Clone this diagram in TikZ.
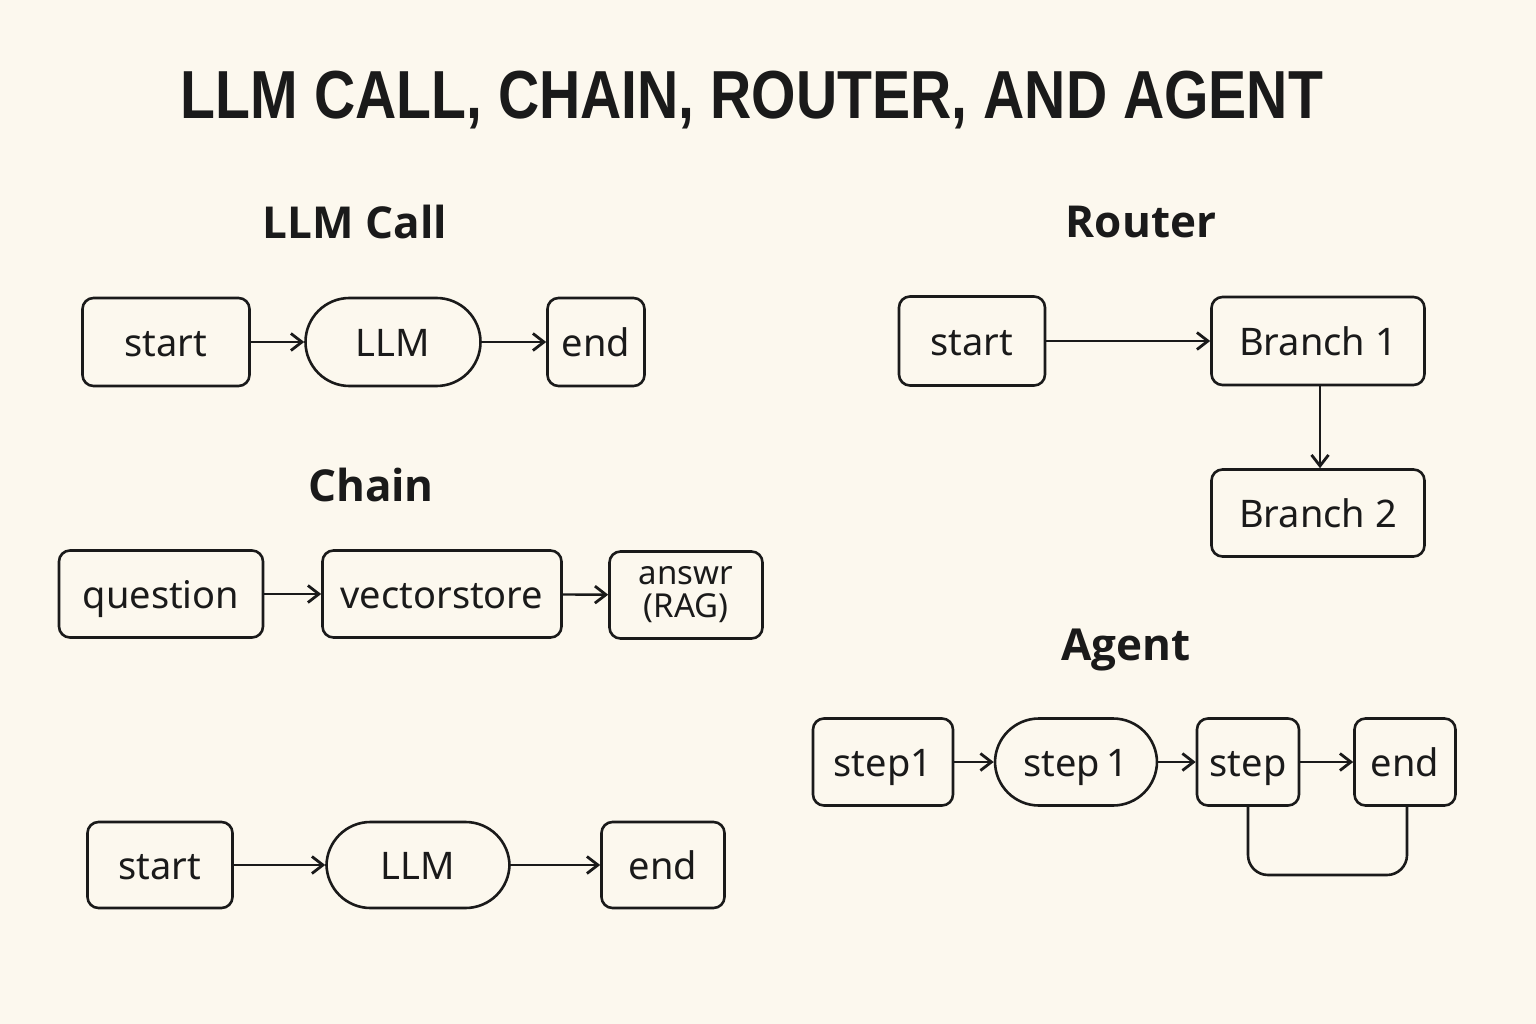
\documentclass[tikz,border=0pt]{standalone}
\usepackage{fontspec}
\setmainfont{Noto Sans}
\newfontfamily\titlefont{Liberation Sans}
\newfontfamily\headfont{Open Sans}
\usetikzlibrary{arrows.meta}
\definecolor{bg}{HTML}{FCF8EE}
\definecolor{ink}{HTML}{1A1A1A}
\tikzset{
  x=1pt, y=-1pt,
  box/.style={draw=ink, line width=2.6pt, rounded corners=11pt, minimum height=88pt, inner sep=0pt, text=ink, font=\fontsize{38}{40}\selectfont, text height=31pt, text depth=3pt},
  pill/.style={box, rounded corners=44pt},
  arr/.style={draw=ink, line width=2.4pt, -{Straight Barb[length=11pt,width=17pt,line width=2.8pt]}},
  loop/.style={draw=ink, line width=2.6pt, rounded corners=20pt},
  head/.style={text=ink, font=\headfont\fontsize{44}{50}\selectfont\bfseries},
}
\begin{document}
\begin{tikzpicture}
\fill[bg] (0,0) rectangle (1536,1024);
\useasboundingbox (0,0) rectangle (1536,1024);

\node[text=ink, font=\titlefont\fontsize{68}{72}\selectfont\bfseries] (title) at (752,100) {\scalebox{0.84}[1]{LLM CALL, CHAIN, ROUTER, AND AGENT}};

% LLM Call
\node[head] (hcall) at (355,222) {LLM Call};
\node[box, minimum width=167pt] (s1) at (166,342) {start};
\node[pill, minimum width=175pt] (l1) at (393,342) {LLM};
\node[box, minimum width=97pt] (e1) at (596,342) {end};
\draw[arr] (s1) -- (l1);
\draw[arr] (l1) -- (e1);

% Chain
\node[head] (hchain) at (371,485) {Chain};
\node[box, minimum width=204pt, minimum height=87pt] (q) at (161,594) {question};
\node[box, minimum width=239pt, minimum height=87pt] (vs) at (442,594) {vectorstore};
\node[box, minimum width=153pt, minimum height=87pt, align=center, font=\fontsize{33}{33}\selectfont, text height=, text depth=] (ans) at (686,595) {answr\\(RAG)};
\draw[arr] (q) -- (vs);
\draw[arr] (vs) -- (ans);

% bottom row
\node[box, minimum width=145pt, minimum height=86pt] (s2) at (160,865) {start};
\node[pill, minimum width=183pt, minimum height=86pt] (l2) at (418,865) {LLM};
\node[box, minimum width=123pt, minimum height=86pt] (e2) at (663,865) {end};
\draw[arr] (s2) -- (l2);
\draw[arr] (l2) -- (e2);

% Router
\node[head] (hrouter) at (1141,222) {Router};
\node[box, minimum width=146pt, minimum height=89pt] (rs) at (972,341) {start};
\node[box, minimum width=213pt] (b1) at (1318,341) {Branch 1};
\node[box, minimum width=213pt, minimum height=87pt] (b2) at (1318,513) {Branch 2};
\draw[arr] (rs) -- (b1);
\draw[arr] (b1.south -| 1320,0) -- (b2.north -| 1320,0);

% Agent
\node[head] (hagent) at (1126,650) {Agent};
\node[box, minimum width=140pt, minimum height=87pt] (a1) at (883,762) {step1};
\node[pill, minimum width=162pt, minimum height=87pt] (a2) at (1076,762) {step\,1};
\node[box, minimum width=102pt, minimum height=87pt] (a3) at (1248,762) {step};
\node[box, minimum width=101pt, minimum height=87pt] (a4) at (1405,762) {end};
\draw[arr] (a1) -- (a2);
\draw[arr] (a2) -- (a3);
\draw[arr] (a3) -- (a4);
\draw[loop] (a3.south) -- (1248,875) -- (1407,875) -- (a4.south -| 1407,0);
\end{tikzpicture}
\end{document}
